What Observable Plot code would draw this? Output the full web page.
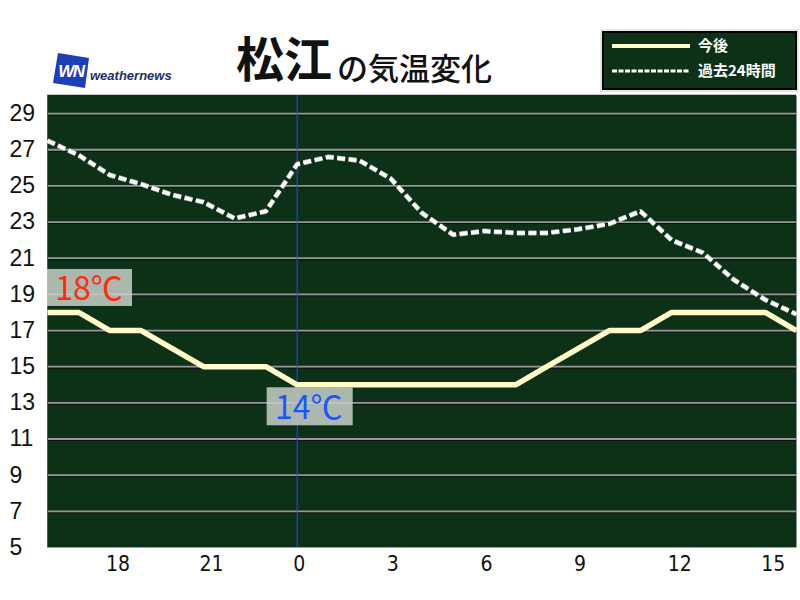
<!DOCTYPE html>
<html>
<head>
<meta charset="utf-8">
<script src="https://cdn.jsdelivr.net/npm/d3@7"></script>
<script src="https://cdn.jsdelivr.net/npm/@observablehq/plot@0.6"></script>
<style>
  html, body { margin: 0; padding: 0; background: #ffffff; }
  #wrap { position: relative; width: 800px; height: 600px; }
  #overlay { position: absolute; left: 0; top: 0; pointer-events: none; }
</style>
</head>
<body>
<div id="wrap"></div>
<script>
// ---- data ----
const hours = [-8, -7, -6, -5, -4, -3, -2, -1, 0, 1, 2, 3, 4, 5, 6, 7, 8, 9, 10, 11, 12, 13, 14, 15, 16];
const futureTemps = [18, 18, 17, 17, 16, 15, 15, 15, 14, 14, 14, 14, 14, 14, 14, 14, 15, 16, 17, 17, 18, 18, 18, 18, 17];
const pastTemps = [27.5, 26.7, 25.6, 25.1, 24.5, 24.1, 23.2, 23.6, 26.2, 26.6, 26.4, 25.4, 23.5, 22.3, 22.5, 22.4, 22.4, 22.6, 22.9, 23.6, 22.0, 21.3, 19.8, 18.7, 17.9];
const xTicks = [-6, -3, 0, 3, 6, 9, 12, 15];
const yTicks = [5, 7, 9, 11, 13, 15, 17, 19, 21, 23, 25, 27, 29];
const gridTemps = [7, 9, 11, 13, 15, 17, 19, 21, 23, 25, 27, 29];
const titleCity = "松江";
const titleRest = "の気温変化";
const legendLabels = ["今後", "過去24時間"];
const nowHour = 0;

const future = hours.map((h, i) => ({hour: h, temp: futureTemps[i]}));
const past = hours.map((h, i) => ({hour: h, temp: pastTemps[i]}));
const startLabel = [future[0]];
const nowLabel = future.filter(d => d.hour === nowHour);

const BG = "#0c3117";

function boxedLabel(data, o) {
  return Plot.text(data, {
    x: "hour", y: "temp", text: d => `${d.temp}℃`,
    render: (index, scales, values) => {
      const g = d3.create("svg:g");
      for (const i of index) {
        const x = values.x[i], y = values.y[i];
        g.append("rect")
          .attr("x", x + o.bx).attr("y", y + o.by)
          .attr("width", o.w).attr("height", o.h)
          .attr("fill", "rgba(200,208,200,0.85)");
        g.append("text")
          .attr("x", x + o.tx).attr("y", y + o.ty)
          .attr("text-anchor", "middle").attr("dy", "0.36em")
          .attr("font-family", "'Noto Sans CJK JP', 'Noto Sans', sans-serif")
          .attr("font-size", 32).attr("fill", o.fill)
          .text(`${data[i].temp}℃`);
      }
      return g.node();
    }
  });
}

const chart = Plot.plot({
  width: 800,
  height: 600,
  marginTop: 95,
  marginBottom: 53,
  marginLeft: 47,
  marginRight: 4,
  style: {background: "#ffffff", overflow: "visible"},
  x: {domain: [-8, 16], axis: null},
  y: {domain: [5, 30], axis: null},
  marks: [
    Plot.frame({fill: BG, stroke: null}),
    Plot.ruleY(gridTemps, {stroke: "#111", strokeWidth: 1, dy: 1.5}),
    Plot.ruleY(gridTemps, {stroke: "#969696", strokeWidth: 1.8}),
    Plot.ruleY([30], {stroke: "#222", strokeWidth: 1.5}),
    Plot.ruleY([5], {stroke: "#9aa59a", strokeWidth: 1}),
    Plot.ruleX([-8], {stroke: "#e02020", strokeWidth: 1}),
    Plot.ruleX([nowHour], {stroke: "#2a45ff", strokeWidth: 1}),
    Plot.line(past, {x: "hour", y: "temp", stroke: "#b8b8b8", strokeWidth: 5, strokeDasharray: "8,3.5", strokeLinecap: "butt", strokeLinejoin: "miter"}),
    Plot.line(past, {x: "hour", y: "temp", stroke: "#ffffff", strokeWidth: 3.5, strokeDasharray: "8,3.5", strokeLinecap: "butt", strokeLinejoin: "miter"}),
    Plot.line(future, {x: "hour", y: "temp", stroke: "#fffcc8", strokeWidth: 5.5, strokeLinecap: "butt", strokeLinejoin: "miter"}),
    boxedLabel(startLabel, {bx: 0, by: -43, w: 85, h: 37, tx: 42, ty: -23.5, fill: "#ff2a10"}),
    boxedLabel(nowLabel, {bx: -30, by: 3, w: 86, h: 38, tx: 12, ty: 23, fill: "#1a55ff"}),
    Plot.axisX(xTicks, {
      tickSize: 0, tickPadding: 9, textAnchor: "start", dx: -4,
      tickFormat: d => String((d + 24) % 24),
      fontSize: 21, fill: "#111",
      fontFamily: "'Liberation Sans Narrow', 'DejaVu Sans Condensed', sans-serif",
      label: null
    }),
    Plot.text(yTicks, {
      y: d => d, text: d => String(d), frameAnchor: "left", textAnchor: "start",
      dx: -38, fontSize: 23, fill: "#111",
      fontFamily: "'Liberation Sans', Arial, sans-serif"
    })
  ]
});

const wrap = document.getElementById("wrap");
wrap.appendChild(chart);

// overlay: title, logo, legend
const ov = d3.select(wrap).append("svg")
  .attr("id", "overlay").attr("width", 800).attr("height", 100);

ov.append("text").attr("x", 236).attr("y", 77)
  .attr("font-family", "'Noto Sans CJK JP', sans-serif").attr("font-weight", 700)
  .attr("font-size", 48).attr("fill", "#111").text(titleCity);
ov.append("text").attr("x", 337).attr("y", 80)
  .attr("font-family", "'Noto Sans CJK JP', sans-serif").attr("font-weight", 500)
  .attr("font-size", 31).attr("fill", "#111").text(titleRest);

// logo
ov.append("polygon").attr("points", "58,53 89,58 85,88 53,83").attr("fill", "#1f3fb8");
ov.append("text").attr("x", 71).attr("y", 77).attr("text-anchor", "middle")
  .attr("font-family", "'Liberation Sans', Arial, sans-serif").attr("font-style", "italic")
  .attr("font-weight", 700).attr("font-size", 17).attr("fill", "#ffffff")
  .attr("letter-spacing", -1.5).text("WN");
ov.append("text").attr("x", 90).attr("y", 80)
  .attr("font-family", "'Liberation Sans', Arial, sans-serif").attr("font-style", "italic")
  .attr("font-weight", 700).attr("font-size", 13).attr("fill", "#23306a").text("weathernews");

// legend
ov.append("rect").attr("x", 601).attr("y", 30).attr("width", 197).attr("height", 61)
  .attr("fill", "none").attr("stroke", "#cccccc").attr("stroke-width", 1);
ov.append("rect").attr("x", 603).attr("y", 32).attr("width", 193).attr("height", 57)
  .attr("fill", BG).attr("stroke", "#000").attr("stroke-width", 2);
ov.append("line").attr("x1", 612).attr("x2", 690).attr("y1", 46).attr("y2", 46)
  .attr("stroke", "#fffcc8").attr("stroke-width", 4);
ov.append("line").attr("x1", 612).attr("x2", 690).attr("y1", 71).attr("y2", 71)
  .attr("stroke", "#ffffff").attr("stroke-width", 3).attr("stroke-dasharray", "5,1.5");
legendLabels.forEach((t, i) => {
  ov.append("text").attr("x", 698).attr("y", 46 + i * 25).attr("dy", "0.36em")
    .attr("font-family", "'Noto Sans CJK JP', sans-serif").attr("font-weight", 700)
    .attr("font-size", 15).attr("fill", "#ffffff").text(t);
});
</script>
</body>
</html>
